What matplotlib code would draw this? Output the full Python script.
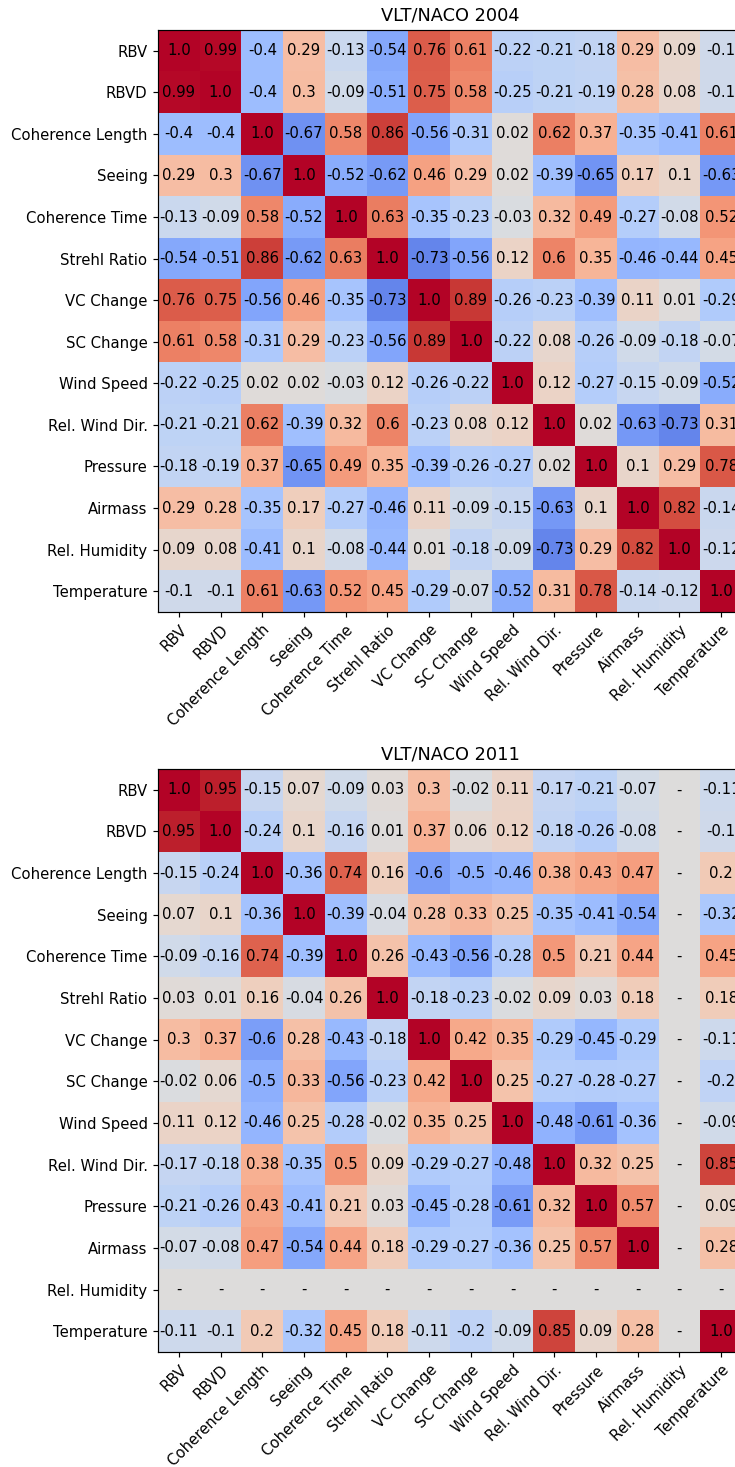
import numpy as np
import matplotlib
matplotlib.use('Agg')
import matplotlib.pyplot as plt

labels = ['RBV', 'RBVD', 'Coherence Length', 'Seeing', 'Coherence Time',
          'Strehl Ratio', 'VC Change', 'SC Change', 'Wind Speed',
          'Rel. Wind Dir.', 'Pressure', 'Airmass', 'Rel. Humidity', 'Temperature']

nan = np.nan

# VLT/NACO 2004 correlation matrix, one row per parameter
corr_2004 = [
    [1.0, 0.99, -0.4, 0.29, -0.13, -0.54, 0.76, 0.61, -0.22, -0.21, -0.18, 0.29, 0.09, -0.1],
    [0.99, 1.0, -0.4, 0.3, -0.09, -0.51, 0.75, 0.58, -0.25, -0.21, -0.19, 0.28, 0.08, -0.1],
    [-0.4, -0.4, 1.0, -0.67, 0.58, 0.86, -0.56, -0.31, 0.02, 0.62, 0.37, -0.35, -0.41, 0.61],
    [0.29, 0.3, -0.67, 1.0, -0.52, -0.62, 0.46, 0.29, 0.02, -0.39, -0.65, 0.17, 0.1, -0.63],
    [-0.13, -0.09, 0.58, -0.52, 1.0, 0.63, -0.35, -0.23, -0.03, 0.32, 0.49, -0.27, -0.08, 0.52],
    [-0.54, -0.51, 0.86, -0.62, 0.63, 1.0, -0.73, -0.56, 0.12, 0.6, 0.35, -0.46, -0.44, 0.45],
    [0.76, 0.75, -0.56, 0.46, -0.35, -0.73, 1.0, 0.89, -0.26, -0.23, -0.39, 0.11, 0.01, -0.29],
    [0.61, 0.58, -0.31, 0.29, -0.23, -0.56, 0.89, 1.0, -0.22, 0.08, -0.26, -0.09, -0.18, -0.07],
    [-0.22, -0.25, 0.02, 0.02, -0.03, 0.12, -0.26, -0.22, 1.0, 0.12, -0.27, -0.15, -0.09, -0.52],
    [-0.21, -0.21, 0.62, -0.39, 0.32, 0.6, -0.23, 0.08, 0.12, 1.0, 0.02, -0.63, -0.73, 0.31],
    [-0.18, -0.19, 0.37, -0.65, 0.49, 0.35, -0.39, -0.26, -0.27, 0.02, 1.0, 0.1, 0.29, 0.78],
    [0.29, 0.28, -0.35, 0.17, -0.27, -0.46, 0.11, -0.09, -0.15, -0.63, 0.1, 1.0, 0.82, -0.14],
    [0.09, 0.08, -0.41, 0.1, -0.08, -0.44, 0.01, -0.18, -0.09, -0.73, 0.29, 0.82, 1.0, -0.12],
    [-0.1, -0.1, 0.61, -0.63, 0.52, 0.45, -0.29, -0.07, -0.52, 0.31, 0.78, -0.14, -0.12, 1.0],
]

# VLT/NACO 2011 correlation matrix (no humidity data that year)
corr_2011 = [
    [1.0, 0.95, -0.15, 0.07, -0.09, 0.03, 0.3, -0.02, 0.11, -0.17, -0.21, -0.07, nan, -0.11],
    [0.95, 1.0, -0.24, 0.1, -0.16, 0.01, 0.37, 0.06, 0.12, -0.18, -0.26, -0.08, nan, -0.1],
    [-0.15, -0.24, 1.0, -0.36, 0.74, 0.16, -0.6, -0.5, -0.46, 0.38, 0.43, 0.47, nan, 0.2],
    [0.07, 0.1, -0.36, 1.0, -0.39, -0.04, 0.28, 0.33, 0.25, -0.35, -0.41, -0.54, nan, -0.32],
    [-0.09, -0.16, 0.74, -0.39, 1.0, 0.26, -0.43, -0.56, -0.28, 0.5, 0.21, 0.44, nan, 0.45],
    [0.03, 0.01, 0.16, -0.04, 0.26, 1.0, -0.18, -0.23, -0.02, 0.09, 0.03, 0.18, nan, 0.18],
    [0.3, 0.37, -0.6, 0.28, -0.43, -0.18, 1.0, 0.42, 0.35, -0.29, -0.45, -0.29, nan, -0.11],
    [-0.02, 0.06, -0.5, 0.33, -0.56, -0.23, 0.42, 1.0, 0.25, -0.27, -0.28, -0.27, nan, -0.2],
    [0.11, 0.12, -0.46, 0.25, -0.28, -0.02, 0.35, 0.25, 1.0, -0.48, -0.61, -0.36, nan, -0.09],
    [-0.17, -0.18, 0.38, -0.35, 0.5, 0.09, -0.29, -0.27, -0.48, 1.0, 0.32, 0.25, nan, 0.85],
    [-0.21, -0.26, 0.43, -0.41, 0.21, 0.03, -0.45, -0.28, -0.61, 0.32, 1.0, 0.57, nan, 0.09],
    [-0.07, -0.08, 0.47, -0.54, 0.44, 0.18, -0.29, -0.27, -0.36, 0.25, 0.57, 1.0, nan, 0.28],
    [nan] * 14,
    [-0.11, -0.1, 0.2, -0.32, 0.45, 0.18, -0.11, -0.2, -0.09, 0.85, 0.09, 0.28, nan, 1.0],
]

FS = 10.7  # cell and tick text size


def draw_corr(ax, corr, title):
    data = np.array(corr, dtype=float)
    shown = np.nan_to_num(data, nan=0.0)
    ax.imshow(shown, cmap='coolwarm', vmin=-1, vmax=1, aspect='auto')
    for i in range(data.shape[0]):
        for j in range(data.shape[1]):
            v = data[i, j]
            txt = '-' if np.isnan(v) else str(round(v, 2))
            ax.text(j, i, txt, ha='center', va='center', fontsize=FS, color='black')
    ax.set_xticks(range(len(labels)))
    ax.set_yticks(range(len(labels)))
    ax.set_xticklabels(labels, rotation=45, ha='right', rotation_mode='anchor', fontsize=FS)
    ax.set_yticklabels(labels, fontsize=FS)
    ax.tick_params(length=3.8, width=0.85, pad=3.7)
    for sp in ax.spines.values():
        sp.set_linewidth(0.85)
    ax.set_title(title, fontsize=12.8, pad=6.5)


W, H = 735, 1467
fig = plt.figure(figsize=(W / 100, H / 100), dpi=100)

# axes run past the right edge of the figure, as in the original
ax1 = fig.add_axes([158 / W, 1 - 612 / H, 584 / W, 582 / H])
ax2 = fig.add_axes([158 / W, 1 - 1352 / H, 584 / W, 583 / H])

draw_corr(ax1, corr_2004, 'VLT/NACO 2004')
draw_corr(ax2, corr_2011, 'VLT/NACO 2011')

fig.savefig('out.png', dpi=100)
